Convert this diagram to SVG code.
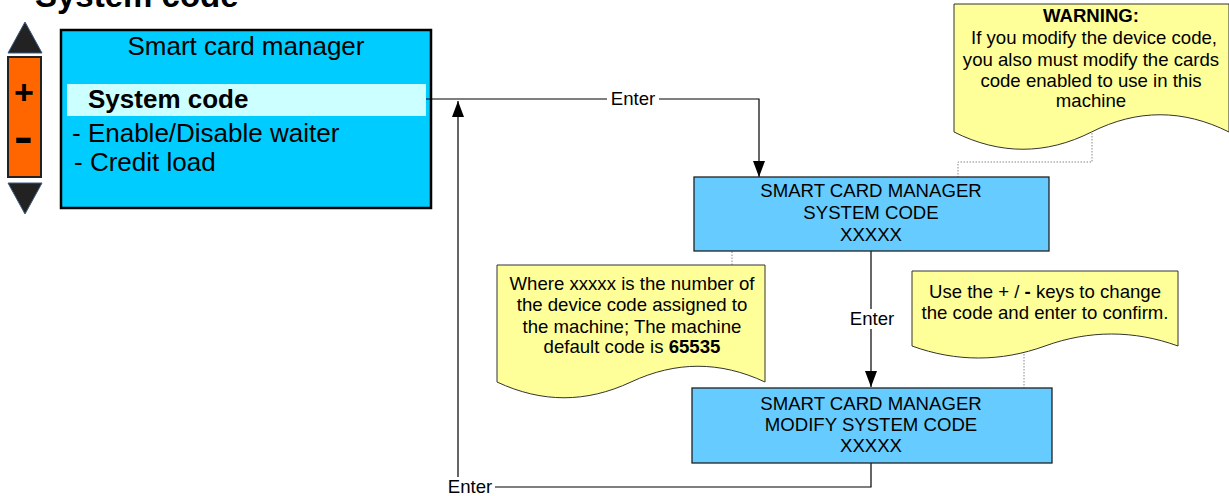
<svg xmlns="http://www.w3.org/2000/svg" width="1229" height="496" viewBox="0 0 1229 496">
<defs>
<style>
text{font-family:"Liberation Sans",Arial,sans-serif;fill:#000}
.lcd{font-size:26px}
.box{fill:#66ccff;stroke:#222;stroke-width:1.3}
.bt{font-size:18.6px;text-anchor:middle}
.note{fill:#ffff99;stroke:#333;stroke-width:1}
.nt{font-size:18.6px;text-anchor:middle}
.conn{fill:none;stroke:#000;stroke-width:1.2}
.dot{fill:none;stroke:#888;stroke-width:1;stroke-dasharray:1.5,1.5}
.lbl{font-size:18.6px;text-anchor:middle}
</style>
<marker id="arr" viewBox="0 0 16 12" refX="16" refY="6" markerWidth="16" markerHeight="12" markerUnits="userSpaceOnUse" orient="auto">
<path d="M0,0 L16,6 L0,12 Z" fill="#000"/>
</marker>
</defs>
<rect width="1229" height="496" fill="#fff"/>
<text x="35" y="7" font-size="33" font-weight="bold">System code</text>

<g id="keypad">
<path d="M25,22 L42,53 L8,53 Z" fill="#222" stroke="#3d5a80" stroke-width="1"/>
<rect x="8" y="57" width="33" height="120" fill="#ff6600" stroke="#222" stroke-width="2"/>
<text x="24" y="104" font-size="34" font-weight="bold" text-anchor="middle">+</text>
<text x="14" y="152" font-size="44" font-weight="bold" textLength="19" lengthAdjust="spacingAndGlyphs">-</text>
<path d="M8,183 L42,183 L25,214 Z" fill="#222" stroke="#3d5a80" stroke-width="1"/>
</g>

<g id="lcd">
<rect x="61" y="30" width="370" height="178" fill="#00ccff" stroke="#000" stroke-width="2.5"/>
<rect x="67" y="84" width="359" height="32" fill="#ccffff"/>
<text class="lcd" x="246" y="55" text-anchor="middle" font-size="26.5">Smart card manager</text>
<text class="lcd" x="88" y="108" font-weight="bold" font-size="25.5">System code</text>
<text class="lcd" x="72" y="142">- Enable/Disable waiter</text>
<text class="lcd" x="74" y="171">- Credit load</text>
</g>

<g id="connectors">
<path class="conn" d="M426,99 H759 V177" marker-end="url(#arr)"/>
<path class="conn" d="M871,251 V387" marker-end="url(#arr)"/>
<path class="conn" d="M871,463 V487 H458 V101" marker-end="url(#arr)"/>
<rect x="607" y="90" width="52" height="18" fill="#fff"/>
<text class="lbl" x="633" y="105">Enter</text>
<rect x="846" y="309" width="52" height="20" fill="#fff"/>
<text class="lbl" x="872" y="325">Enter</text>
<rect x="445" y="477" width="50" height="19" fill="#fff"/>
<text class="lbl" x="470" y="493">Enter</text>
<path class="dot" d="M1092,133 V162 H958 V177"/>
<path class="dot" d="M732,265 V251"/>
<path class="dot" d="M1024,351 V388"/>
</g>

<g id="box1">
<rect class="box" x="694" y="177" width="355" height="74"/>
<text class="bt" x="871" y="197">SMART CARD MANAGER</text>
<text class="bt" x="871" y="219">SYSTEM CODE</text>
<text class="bt" x="871" y="241">XXXXX</text>
</g>

<g id="box2">
<rect class="box" x="692" y="388" width="360" height="75"/>
<text class="bt" x="871" y="410">SMART CARD MANAGER</text>
<text class="bt" x="871" y="431">MODIFY SYSTEM CODE</text>
<text class="bt" x="871" y="452">XXXXX</text>
</g>

<g id="warning">
<path class="note" d="M954,4 H1229 V132 C1183,109 1137,109 1091.5,132 C1046,155 1000,155 954,132 Z"/>
<text class="nt" x="1091" y="22" font-weight="bold">WARNING:</text>
<text class="nt" x="1094" y="44">If you modify the device code,</text>
<text class="nt" x="1091" y="66">you also must modify the cards</text>
<text class="nt" x="1091" y="87">code enabled to use in this</text>
<text class="nt" x="1091" y="107">machine</text>
</g>

<g id="note-default">
<path class="note" d="M497,265 H765 V382 C720,361 676,361 631,382 C586,403 542,403 497,382 Z"/>
<text class="nt" x="632" y="290">Where xxxxx is the number of</text>
<text class="nt" x="632" y="311">the device code assigned  to</text>
<text class="nt" x="632" y="333">the machine; The machine</text>
<text class="nt" x="632" y="353">default code is <tspan font-weight="bold">65535</tspan></text>
</g>

<g id="note-keys">
<path class="note" d="M912,271 H1178 V346 C1134,330 1089,330 1045,346 C1001,362 956,362 912,346 Z"/>
<text class="nt" x="1045" y="298">Use the + / <tspan font-weight="bold">-</tspan> keys to change</text>
<text class="nt" x="1045" y="319">the code and enter to confirm.</text>
</g>
</svg>
